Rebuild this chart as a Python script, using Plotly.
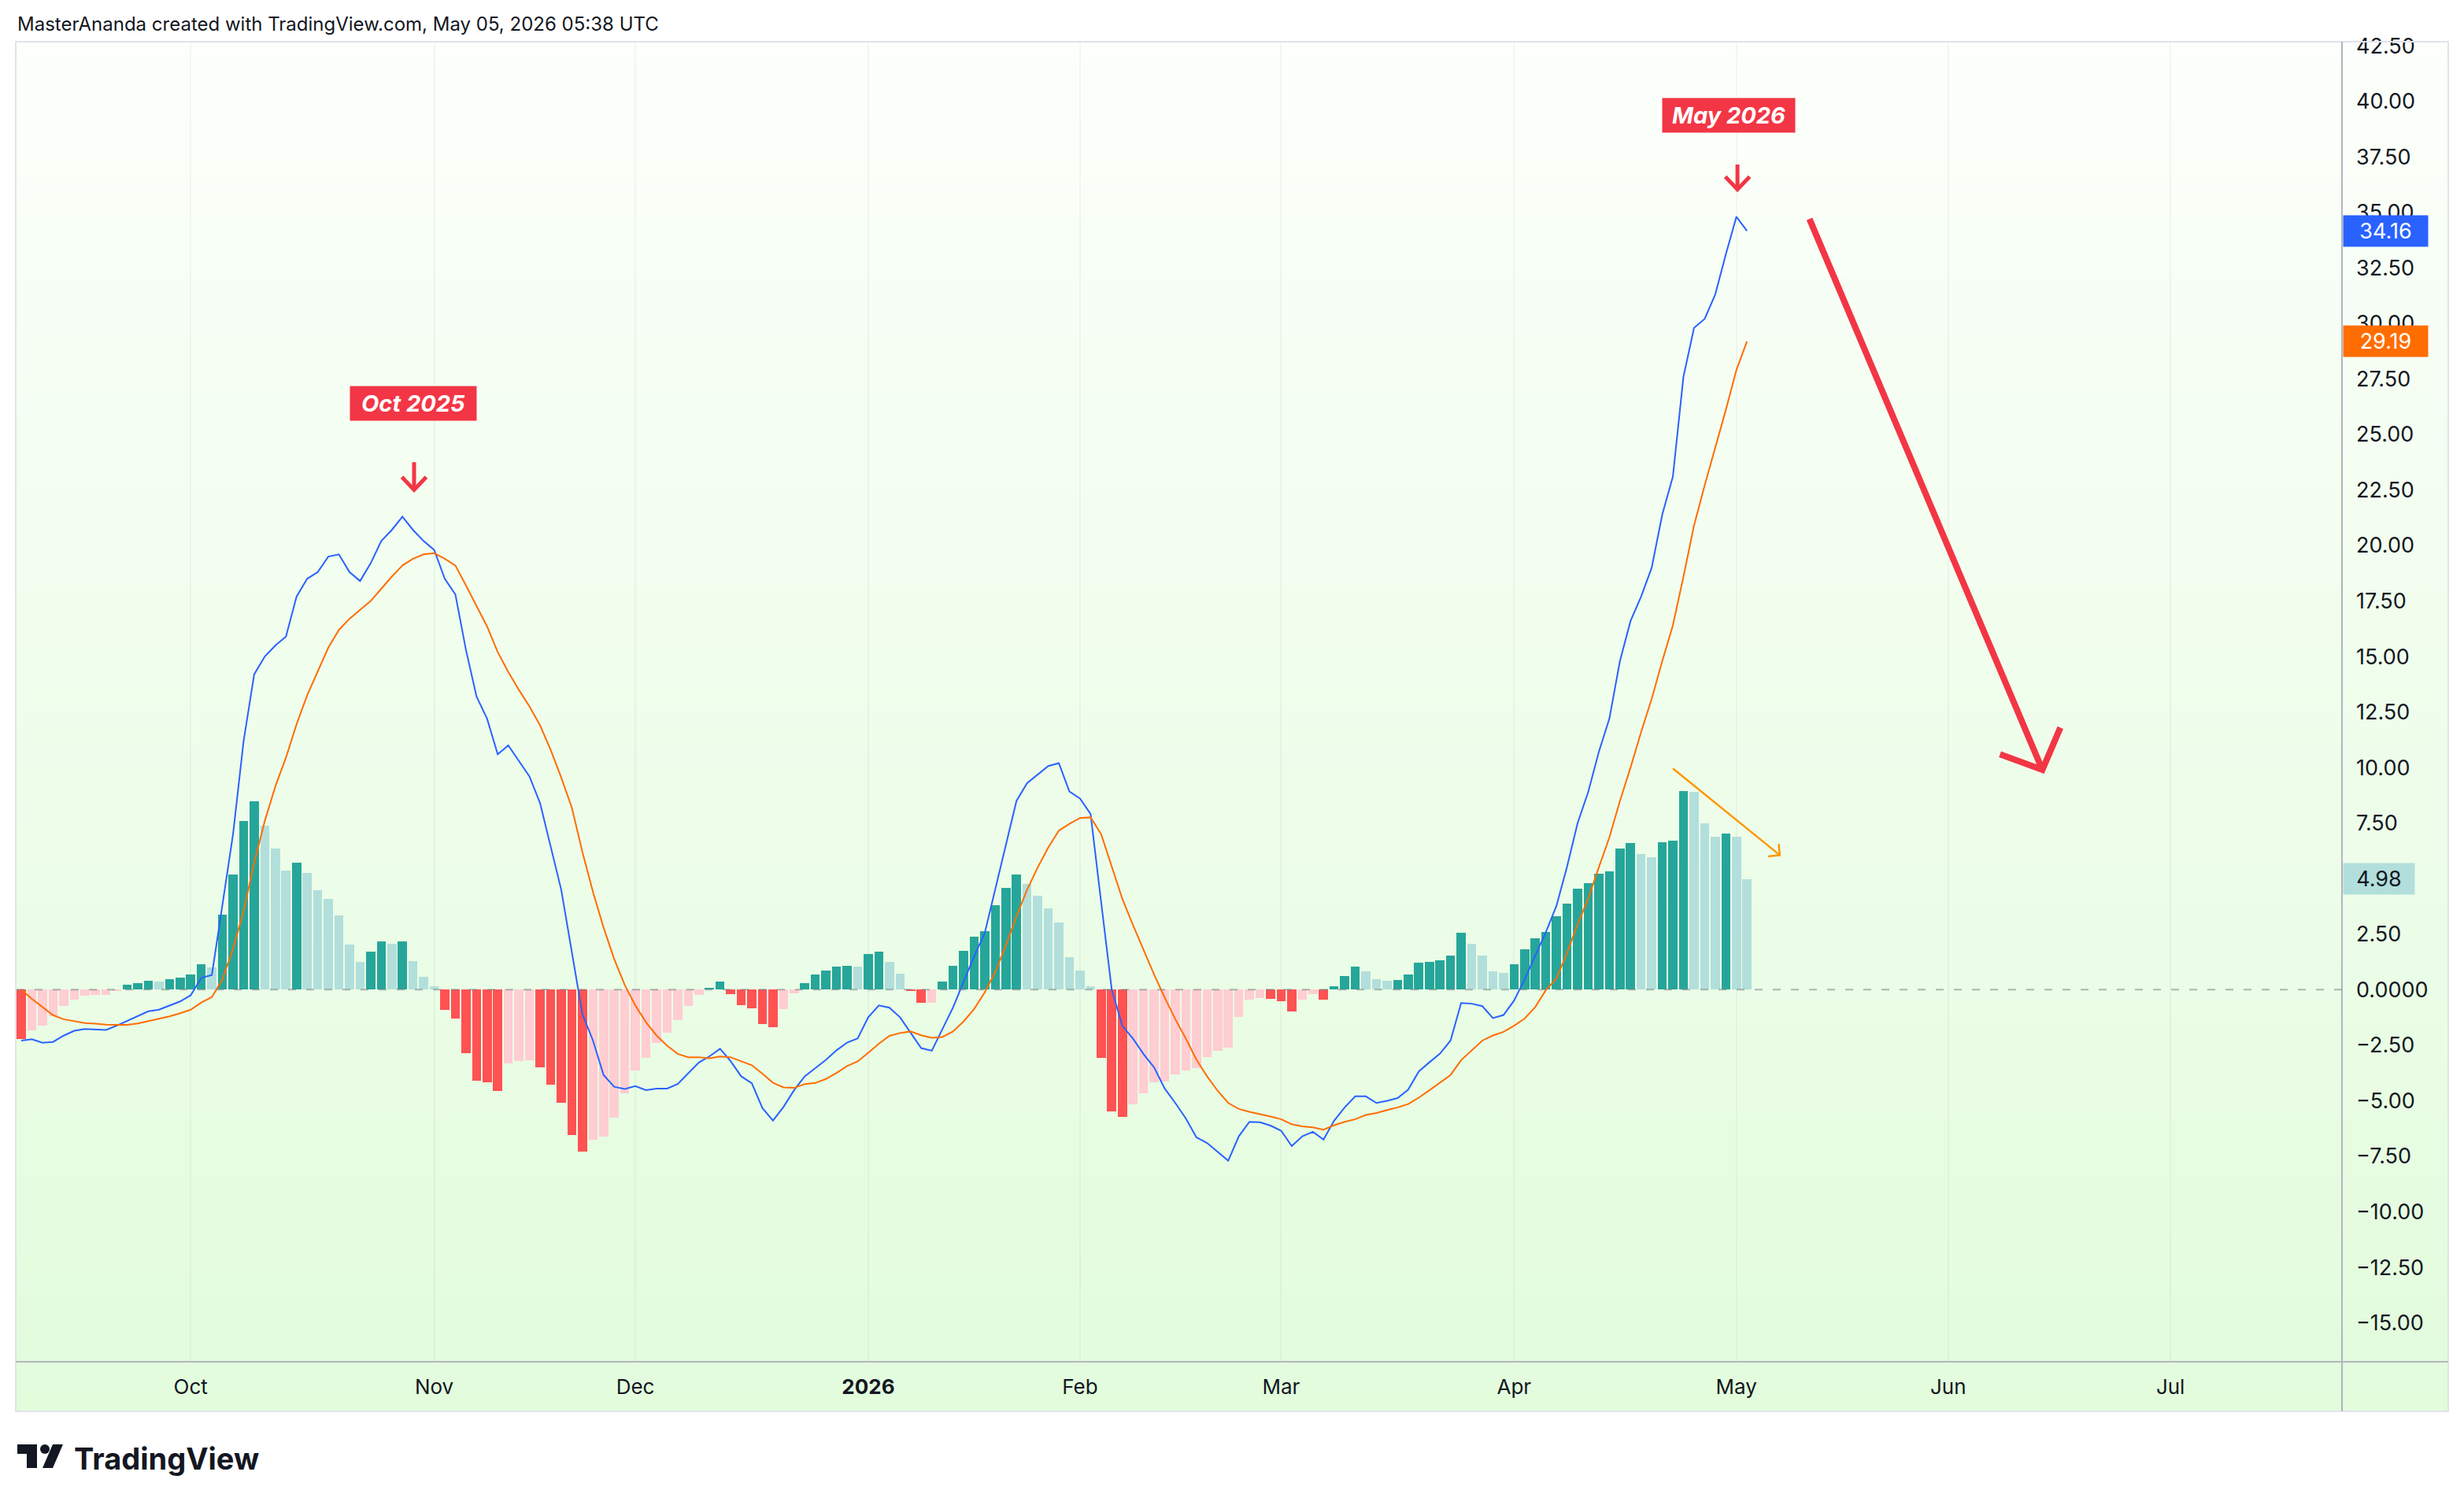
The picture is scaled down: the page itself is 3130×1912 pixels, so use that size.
import plotly.graph_objects as go

# ---------------- data ----------------
hist = [-2.23, -1.82, -1.61, -1.18, -0.74, -0.46, -0.27, -0.25, -0.24, -0.04,
        0.21, 0.31, 0.42, 0.37, 0.46, 0.53, 0.67, 1.13, 1.02, 3.38,
        5.19, 7.60, 8.48, 7.39, 6.36, 5.37, 5.72, 5.27, 4.49, 4.09,
        3.36, 2.04, 1.26, 1.72, 2.19, 2.08, 2.16, 1.30, 0.59, 0.17,
        -0.90, -1.30, -2.85, -4.09, -4.16, -4.56, -3.32, -3.22, -3.17, -3.48,
        -4.26, -5.08, -6.53, -7.30, -6.74, -6.63, -5.75, -4.68, -3.63, -3.06,
        -2.39, -1.93, -1.36, -0.74, -0.25, 0.09, 0.35, -0.20, -0.69, -0.84,
        -1.55, -1.70, -0.88, -0.16, 0.31, 0.67, 0.88, 1.05, 1.08, 1.05,
        1.59, 1.70, 1.26, 0.71, -0.07, -0.60, -0.58, 0.35, 1.09, 1.76,
        2.37, 2.65, 3.82, 4.58, 5.19, 4.77, 4.24, 3.67, 3.04, 1.45,
        0.88, 0.17, -3.07, -5.48, -5.72, -5.15, -4.68, -4.18, -4.14, -3.80,
        -3.63, -3.53, -3.02, -2.75, -2.60, -1.23, -0.45, -0.37, -0.41, -0.52,
        -0.98, -0.45, -0.20, -0.45, 0.17, 0.63, 1.05, 0.84, 0.46, 0.41,
        0.43, 0.67, 1.20, 1.26, 1.34, 1.55, 2.58, 2.08, 1.55, 0.81,
        0.77, 1.15, 1.83, 2.32, 2.60, 3.31, 3.88, 4.55, 4.79, 5.22,
        5.32, 6.35, 6.60, 6.10, 5.96, 6.63, 6.70, 8.96, 8.89, 7.48,
        6.88, 7.02, 6.88, 4.98]

macd = [-2.29, -2.23, -2.39, -2.35, -2.07, -1.85, -1.77, -1.78, -1.81, -1.62,
        -1.40, -1.20, -0.97, -0.90, -0.72, -0.53, -0.25, 0.53, 0.66, 3.84,
        7.00, 11.2, 14.2, 15.0, 15.5, 15.9, 17.7, 18.5, 18.8, 19.5,
        19.6, 18.8, 18.4, 19.2, 20.2, 20.7, 21.3, 20.7, 20.2, 19.8,
        18.5, 17.8, 15.3, 13.2, 12.2, 10.6, 11.0, 10.3, 9.6, 8.4,
        6.45, 4.5, 1.7, -1.1, -2.29, -3.84, -4.37, -4.47, -4.34, -4.52,
        -4.45, -4.45, -4.25, -3.78, -3.28, -3.00, -2.66, -3.22, -3.90, -4.21,
        -5.33, -5.89, -5.27, -4.52, -3.90, -3.53, -3.16, -2.73, -2.38, -2.19,
        -1.24, -0.71, -0.81, -1.24, -1.92, -2.63, -2.75, -1.80, -0.81, 0.35,
        1.50, 2.55, 4.50, 6.50, 8.50, 9.30, 9.70, 10.07, 10.20, 8.92,
        8.61, 7.91, 3.93, 0.00, -1.63, -2.20, -2.90, -3.50, -4.45, -5.10,
        -5.80, -6.65, -6.90, -7.30, -7.70, -6.60, -5.95, -5.97, -6.12, -6.35,
        -7.04, -6.60, -6.40, -6.75, -5.90, -5.30, -4.80, -4.80, -5.10, -5.00,
        -4.88, -4.50, -3.68, -3.27, -2.88, -2.29, -0.60, -0.63, -0.74, -1.28,
        -1.14, -0.49, 0.47, 1.53, 2.59, 3.77, 5.53, 7.50, 8.90, 10.70,
        12.2, 14.8, 16.6, 17.7, 19.0, 21.4, 23.1, 27.6, 29.8, 30.2,
        31.3, 33.1, 34.8, 34.16]

signal = [0.00, -0.41, -0.78, -1.15, -1.33, -1.41, -1.50, -1.53, -1.57, -1.58,
          -1.58, -1.52, -1.42, -1.30, -1.20, -1.06, -0.90, -0.58, -0.33, 0.46,
          1.85, 3.55, 5.72, 7.60, 9.16, 10.45, 11.95, 13.25, 14.35, 15.40,
          16.20, 16.70, 17.10, 17.50, 18.05, 18.60, 19.10, 19.40, 19.60, 19.65,
          19.40, 19.10, 18.20, 17.25, 16.35, 15.20, 14.30, 13.50, 12.75, 11.90,
          10.80, 9.55, 8.20, 6.20, 4.40, 2.80, 1.38, 0.21, -0.71, -1.46,
          -2.06, -2.52, -2.89, -3.04, -3.04, -3.09, -3.01, -3.04, -3.22, -3.40,
          -3.78, -4.19, -4.40, -4.42, -4.25, -4.20, -4.02, -3.75, -3.44, -3.23,
          -2.84, -2.43, -2.08, -1.95, -1.88, -2.05, -2.17, -2.13, -1.88, -1.43,
          -0.87, -0.12, 0.80, 2.00, 3.30, 4.50, 5.50, 6.40, 7.16, 7.47,
          7.73, 7.76, 7.00, 5.51, 4.09, 2.91, 1.80, 0.68, -0.35, -1.33,
          -2.20, -3.15, -3.90, -4.55, -5.10, -5.37, -5.50, -5.60, -5.71, -5.83,
          -6.06, -6.15, -6.20, -6.30, -6.10, -5.95, -5.83, -5.64, -5.55, -5.42,
          -5.30, -5.15, -4.86, -4.53, -4.20, -3.84, -3.17, -2.72, -2.29, -2.06,
          -1.90, -1.62, -1.30, -0.78, -0.02, 0.50, 1.65, 2.95, 4.10, 5.50,
          6.85, 8.50, 10.00, 11.60, 13.10, 14.80, 16.40, 18.60, 20.90, 22.70,
          24.40, 26.10, 27.90, 29.19]

# trading-day index of each month label on the time axis
month_tick_index = [16, 39, 58, 80, 100, 119, 141, 162, 182, 203]
month_tick_text = ["Oct", "Nov", "Dec", "<b>2026</b>", "Feb", "Mar", "Apr", "May", "Jun", "Jul"]

y_tick_vals = [42.5, 40.0, 37.5, 35.0, 32.5, 30.0, 27.5, 25.0, 22.5, 20.0, 17.5, 15.0,
               12.5, 10.0, 7.5, 5.0, 2.5, 0.0, -2.5, -5.0, -7.5, -10.0, -12.5, -15.0]
y_tick_text = ["42.50", "40.00", "37.50", "35.00", "32.50", "30.00", "27.50", "25.00",
               "22.50", "20.00", "17.50", "15.00", "12.50", "10.00", "7.50", "5.00",
               "2.50", "0.0000", "\u22122.50", "\u22125.00", "\u22127.50", "\u221210.00",
               "\u221212.50", "\u221215.00"]

# ---------------- styling ----------------
W, H = 3130, 1912
PL, PR, PT, PB = 21, 2975, 53, 1730          # plot area in pixels
CONT_R, CONT_B = 3110, 1793                  # chart container (incl. axes)
X_RANGE = [-0.45, 219.2]
Y_RANGE = [-16.75, 42.68]

BLUE = "#2962FF"
ORANGE = "#FF6D00"
RED = "#F23645"
TEXT = "#131722"


def px2paper_x(p):
    return (p - PL) / (PR - PL)


def px2paper_y(p):
    return (PB - p) / (PB - PT)


x = list(range(len(hist)))
bar_colors = []
for i, v in enumerate(hist):
    prev = hist[i - 1] if i > 0 else v
    if v >= 0:
        bar_colors.append("#26A69A" if v > prev or i == 0 else "#B2DFDB")
    else:
        bar_colors.append("#FFCDD2" if v > prev else "#FF5252")

fig = go.Figure()
fig.add_trace(go.Bar(x=x, y=hist, marker=dict(color=bar_colors, line=dict(width=0)),
                     width=0.86, hoverinfo="skip"))
fig.add_trace(go.Scatter(x=x, y=macd, mode="lines", line=dict(color=BLUE, width=2)))
fig.add_trace(go.Scatter(x=x, y=signal, mode="lines", line=dict(color=ORANGE, width=2)))

shapes = []
# background gradient of the chart container
n = 70
top_c = (252, 255, 251)
bot_c = (226, 252, 220)
for k in range(n):
    y0 = PT + (CONT_B - PT) * k / n
    y1 = PT + (CONT_B - PT) * (k + 1) / n + 1
    t = (k + 0.5) / n
    c = tuple(round(top_c[j] + (bot_c[j] - top_c[j]) * t) for j in range(3))
    shapes.append(dict(type="rect", xref="paper", yref="paper", layer="below",
                       x0=px2paper_x(PL - 1), x1=px2paper_x(CONT_R),
                       y0=px2paper_y(y1), y1=px2paper_y(y0),
                       fillcolor="rgb(%d,%d,%d)" % c, line=dict(width=0)))
# container border
shapes.append(dict(type="rect", xref="paper", yref="paper", layer="above",
                   x0=px2paper_x(PL - 1), x1=px2paper_x(CONT_R),
                   y0=px2paper_y(CONT_B), y1=px2paper_y(PT),
                   line=dict(color="#E0E3EB", width=2)))
# axis separators
shapes.append(dict(type="line", xref="paper", yref="paper", layer="above",
                   x0=1, x1=1, y0=px2paper_y(CONT_B), y1=px2paper_y(PT),
                   line=dict(color="#B2B5BE", width=2)))
shapes.append(dict(type="line", xref="paper", yref="paper", layer="above",
                   x0=px2paper_x(PL - 1), x1=px2paper_x(CONT_R), y0=0, y1=0,
                   line=dict(color="#B2B5BE", width=2)))
# zero level dashed line
shapes.append(dict(type="line", xref="paper", yref="y", layer="above",
                   x0=0, x1=1, y0=0, y1=0,
                   line=dict(color="rgba(120,123,134,0.55)", width=2, dash="10px,13px")))


def down_arrow(xc, y_top, y_tip, dx, dy, color, width):
    shapes.append(dict(type="line", xref="x", yref="y", x0=xc, x1=xc, y0=y_top, y1=y_tip,
                       line=dict(color=color, width=width)))
    shapes.append(dict(type="path", xref="x", yref="y",
                       path="M %f,%f L %f,%f L %f,%f" % (xc - dx, y_tip + dy, xc, y_tip, xc + dx, y_tip + dy),
                       line=dict(color=color, width=width)))


down_arrow(37.1, 23.75, 22.5, 1.15, 0.58, RED, 5)
down_arrow(162.1, 37.15, 36.03, 1.15, 0.57, RED, 5)

# big red projection arrow
shapes.append(dict(type="line", xref="x", yref="y", x0=168.9, y0=34.7, x1=190.9, y1=9.9,
                   line=dict(color=RED, width=8)))
shapes.append(dict(type="path", xref="x", yref="y",
                   path="M 186.9,10.6 L 190.9,9.9 L 192.6,11.8",
                   line=dict(color=RED, width=8)))
# small orange arrow over the histogram
shapes.append(dict(type="line", xref="x", yref="y", x0=156.0, y0=9.96, x1=166.1, y1=6.06,
                   line=dict(color="#FF9800", width=2.5)))
shapes.append(dict(type="path", xref="x", yref="y",
                   path="M 166.0,6.56 L 166.1,6.06 L 165.0,6.0",
                   line=dict(color="#FF9800", width=2.5)))

# TradingView logo (footer)
shapes.append(dict(type="path", xref="paper", yref="paper", layer="above",
                   path="M %f,%f L %f,%f L %f,%f L %f,%f L %f,%f L %f,%f Z" % (
                       px2paper_x(22), px2paper_y(1835), px2paper_x(47), px2paper_y(1835),
                       px2paper_x(47), px2paper_y(1865), px2paper_x(34), px2paper_y(1865),
                       px2paper_x(34), px2paper_y(1847), px2paper_x(22), px2paper_y(1847)),
                   fillcolor=TEXT, line=dict(width=0)))
shapes.append(dict(type="circle", xref="paper", yref="paper", layer="above",
                   x0=px2paper_x(51), x1=px2paper_x(63), y0=px2paper_y(1847), y1=px2paper_y(1835),
                   fillcolor=TEXT, line=dict(width=0)))
shapes.append(dict(type="path", xref="paper", yref="paper", layer="above",
                   path="M %f,%f L %f,%f L %f,%f L %f,%f Z" % (
                       px2paper_x(67), px2paper_y(1835), px2paper_x(80), px2paper_y(1835),
                       px2paper_x(67), px2paper_y(1865), px2paper_x(54), px2paper_y(1865)),
                   fillcolor=TEXT, line=dict(width=0)))

annotations = []
annotations.append(dict(xref="paper", yref="paper", x=px2paper_x(20), y=px2paper_y(30),
                        xanchor="left", yanchor="middle", showarrow=False,
                        text="MasterAnanda created with TradingView.com, May 05, 2026 05:38 UTC",
                        font=dict(family="Inter, Roboto, sans-serif", size=24, color=TEXT)))
annotations.append(dict(xref="paper", yref="paper", x=px2paper_x(92), y=px2paper_y(1853),
                        xanchor="left", yanchor="middle", showarrow=False,
                        text="<b>TradingView</b>",
                        font=dict(family="Inter, Roboto, sans-serif", size=38, color=TEXT)))
for label, xi, yv, w in [("Oct 2025", 37.0, 26.4, 160), ("May 2026", 161.3, 39.35, 168)]:
    annotations.append(dict(xref="x", yref="y", x=xi, y=yv, showarrow=False,
                            text="<b><i>%s</i></b>" % label, bgcolor=RED,
                            width=w, height=43, borderpad=0,
                            font=dict(family="Inter, Roboto, sans-serif", size=29, color="white")))
# price-scale labels
for val, bg, fg, w in [(macd[-1], BLUE, "white", 107), (signal[-1], ORANGE, "white", 107),
                       (hist[-1], "#B2DFDB", TEXT, 90)]:
    annotations.append(dict(xref="paper", yref="y", x=1, y=val, xanchor="left", yanchor="middle",
                            xshift=1, showarrow=False, text="%.2f" % val, bgcolor=bg,
                            width=w, height=39, borderpad=0, align="center",
                            font=dict(family="Inter, Roboto, sans-serif", size=27, color=fg)))

fig.update_layout(
    width=W, height=H,
    margin=dict(l=PL, r=W - PR, t=PT, b=H - PB, pad=0),
    paper_bgcolor="white", plot_bgcolor="rgba(0,0,0,0)",
    showlegend=False, bargap=0,
    shapes=shapes, annotations=annotations,
    xaxis=dict(range=X_RANGE, tickmode="array", tickvals=month_tick_index, ticktext=month_tick_text,
               showgrid=True, gridcolor="rgba(42,46,57,0.045)", gridwidth=2, zeroline=False,
               showline=False, ticks="", ticklabelstandoff=14,
               tickfont=dict(family="Inter, Roboto, sans-serif", size=26, color=TEXT)),
    yaxis=dict(range=Y_RANGE, side="right", tickmode="array", tickvals=y_tick_vals,
               ticktext=y_tick_text, showgrid=False, zeroline=False, showline=False,
               ticks="", ticklabelstandoff=17,
               tickfont=dict(family="Inter, Roboto, sans-serif", size=27, color=TEXT)),
)

fig.write_html("out.html")
